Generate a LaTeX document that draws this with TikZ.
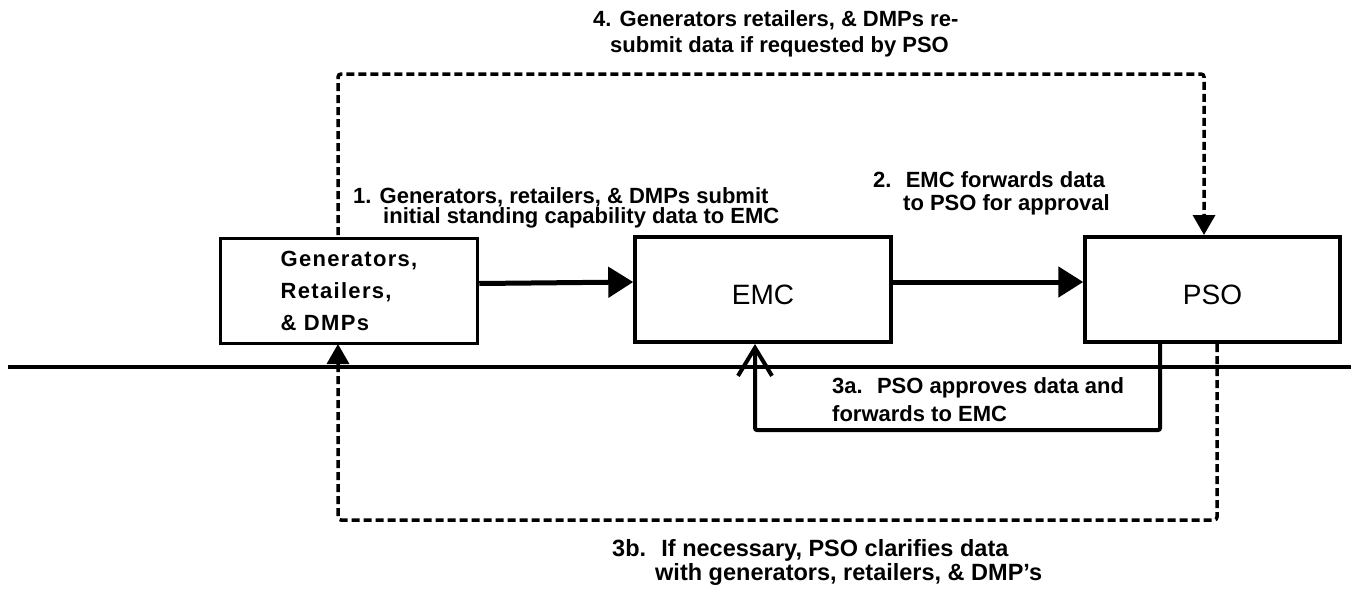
\documentclass[tikz,border=0pt]{standalone}
\usepackage{fontspec}
\setmainfont{Liberation Sans}
\newfontfamily\spacedfont[LetterSpace=6]{Liberation Sans}
\usetikzlibrary{arrows.meta}
\newcommand\twoln[4]{\vtop{\baselineskip=#1\hbox{#3}\hbox{\kern#2 #4}}}
\begin{document}
\begin{tikzpicture}[x=1pt,y=-1pt,
  box/.style={draw, line width=3.5pt, minimum width=256pt, minimum height=105pt, inner sep=0pt},
  bigtext/.style={font=\fontsize{28}{28}\selectfont, text height=30pt, text depth=0pt},
  bigarrow/.style={line width=5pt, -{Triangle[length=25pt,width=30pt]}},
  dasharrow/.style={line width=3.5pt, dash pattern=on 8pt off 4pt, rounded corners=3pt, -{Triangle[length=20pt,width=22pt]}},
  retarrow/.style={line width=4pt, rounded corners=2pt, -{Straight Barb[length=28pt,width=34pt,line width=4pt]}},
  lbl/.style={font=\bfseries\fontsize{22}{22}\selectfont, inner sep=0pt, anchor=base west},
  sepline/.style={line width=4pt}]
\useasboundingbox (0,0) rectangle (1351,589);

% boxes
\node[box, minimum width=257pt, align=left,
      font=\spacedfont\bfseries\fontsize{22}{32}\selectfont] (gen) at (349,291)
      {Generators,\\Retailers,\\\& DMPs};
\node[box, bigtext] (emc) at (763,289.5) {EMC};
\node[box, bigtext, minimum width=255pt] (pso) at (1212.5,289.5) {PSO};

% helper coordinates
\coordinate (topy) at (0,74);
\coordinate (boty) at (0,520);
\coordinate (rety) at (0,430);
\coordinate (sepL) at (8,367);
\coordinate (sepR) at (1351,367);
\coordinate (g1) at (338,235);
\coordinate (p1) at (1204,235);
\coordinate (p2) at (1217,344);
\coordinate (g2) at (338,344);
\coordinate (p3) at (1160,344);
\coordinate (e3) at (755,344);

% separator line
\draw[sepline] (sepL) -- (sepR);

% main flow
\draw[bigarrow] ([yshift=7.5pt]gen.east) -- ([yshift=7.5pt]emc.west);
\draw[bigarrow] ([yshift=7.5pt]emc.east) -- ([yshift=7.5pt]pso.west);

% return flows
\draw[dasharrow] (g1) -- (g1 |- topy) -| (p1);
\draw[dasharrow] (p2) -- (p2 |- boty) -| (g2);
\draw[retarrow] (p3) -- (p3 |- rety) -| (e3);

% labels
\node[lbl] (l4) at (593,27) {\twoln{25pt}{17pt}{4. Generators retailers, \& DMPs re-}{submit data if requested by PSO}};
\node[lbl] (l1) at (353,203) {\twoln{20pt}{30pt}{1. Generators, retailers, \& DMPs submit}{initial standing capability data to EMC}};
\node[lbl] (l2) at (873,187) {\twoln{23pt}{30pt}{2.~ EMC forwards data}{to PSO for approval}};
\node[lbl] (l3a) at (832,393) {\twoln{28pt}{0pt}{3a.~ PSO approves data and}{forwards to EMC}};
\node[lbl, font=\bfseries\fontsize{23.5}{23.5}\selectfont] (l3b) at (612,556) {\twoln{24pt}{43pt}{3b.~ If necessary, PSO clarifies data}{with generators, retailers, \& DMP's}};
\end{tikzpicture}
\end{document}
